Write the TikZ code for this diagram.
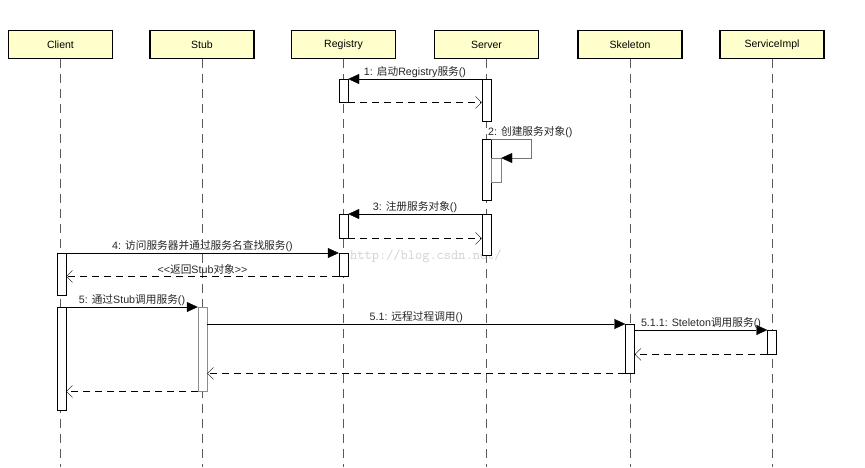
\documentclass[tikz,border=0pt]{standalone}
\usepackage{fontspec}
\setmainfont{Liberation Sans}
\newfontfamily\cjk{Noto Sans CJK SC}
\newcommand{\zh}[1]{{\cjk #1}}
\usetikzlibrary{arrows.meta}
\definecolor{headfill}{RGB}{255,255,204}

\begin{document}
\begin{tikzpicture}[x=1pt, y=-1pt, font=\fontsize{10.7}{12}\selectfont,
	head/.style={rectangle, draw, line width=1.6pt, fill=headfill, minimum width=104pt, minimum height=28pt, font=\fontsize{10.5}{12}\selectfont},
	life/.style={draw=black!65, dash pattern=on 9pt off 6pt},
	bar/.style={rectangle, draw, fill=white, minimum width=9pt, inner sep=0pt, anchor=north},
	call/.style={-{Triangle[length=11pt,width=10pt,black]}},
	ret/.style={dash pattern=on 7pt off 5pt, -{Straight Barb[length=6pt,width=12pt]}},
	msg/.style={above, inner sep=1.5pt, text=black!85}]

		\useasboundingbox (0,0) rectangle (865,467);

		% heads
		\node[head] (client) at (60.5,44.5) {Client};
		\node[head] (stub) at (202,44.5) {Stub};
		\node[head] (registry) at (343.5,44.5) {Registry};
		\node[head] (server) at (486.5,44.5) {Server};
		\node[head] (skeleton) at (630,44.5) {Skeleton};
		\node[head] (impl) at (772,44.5) {ServiceImpl};

		\foreach \n in {client,stub,registry,server,skeleton,impl}
			\draw[life] (\n.south) -- (\n.south |- 0,467);

		\node[text=black!18, font=\ttfamily\fontsize{14}{16}\selectfont, anchor=west, inner sep=0pt] (mark) at (350,256) {http://blog.csdn.net/};

		% activations
		\node[bar, minimum height=23pt] (reg1) at (343.5,79) {};
		\node[bar, minimum height=42pt] (srv1) at (486.5,79) {};
		\node[bar, minimum height=61pt] (srv2) at (486.5,139) {};
		\node[bar, draw=black!50, minimum width=10pt, minimum height=24pt] (srv3) at (496,158) {};
		\node[bar, minimum height=24pt] (reg2) at (343.5,214) {};
		\node[bar, minimum height=41pt] (srv4) at (486.5,214) {};
		\node[bar, minimum height=23pt] (reg3) at (343.5,253) {};
		\node[bar, minimum height=42pt] (cli1) at (61.5,253) {};
		\node[bar, minimum height=103pt] (cli2) at (61.5,307) {};
		\node[bar, draw=black!45, minimum height=84pt] (stub1) at (202.5,307) {};
		\node[bar, minimum height=49pt] (skel1) at (630,324) {};
		\node[bar, minimum height=24pt] (impl1) at (772,330) {};

		% messages
		\draw[call] (srv1.north west) -- node[msg] {1: \zh{启动}Registry\zh{服务}()} (reg1.north east);
		\draw[ret] (reg1.south east) -- (reg1.south east -| srv1.west);

		\node[anchor=south west, inner sep=1.5pt, text=black!85] (lbl2) at (srv2.north) {2: \zh{创建服务对象}()};
		\draw[call, draw=black!55] (srv2.north east) -- ++(40,0) |- (srv3.north east);

		\draw[call] (srv4.north west) -- node[msg] {3: \zh{注册服务对象}()} (reg2.north east);
		\draw[ret] (reg2.south east) -- (reg2.south east -| srv4.west);

		\draw[call] (cli1.north east) -- node[msg] {4: \zh{访问服务器并通过服务名查找服务}()} (reg3.north west);
		\draw[ret] (reg3.south west) -- node[msg] {{<}{<}\zh{返回}Stub\zh{对象}{>}{>}} (reg3.south west -| cli1.east);

		\draw[call] (cli2.north east) -- node[msg] {5: \zh{通过}Stub\zh{调用服务}()} (stub1.north west);
		\draw[call] (stub1.east |- skel1.north) -- node[msg] {5.1: \zh{远程过程调用}()} (skel1.north west);
		\draw[call] (skel1.east |- impl1.north) -- node[msg] {5.1.1: Steleton\zh{调用服务}()} (impl1.north west);

		\draw[ret] (impl1.south west) -- (impl1.south west -| skel1.east);
		\draw[ret] (skel1.south west) -- (skel1.south west -| stub1.east);
		\draw[ret] (stub1.south west) -- (stub1.south west -| cli2.east);

\end{tikzpicture}
\end{document}
